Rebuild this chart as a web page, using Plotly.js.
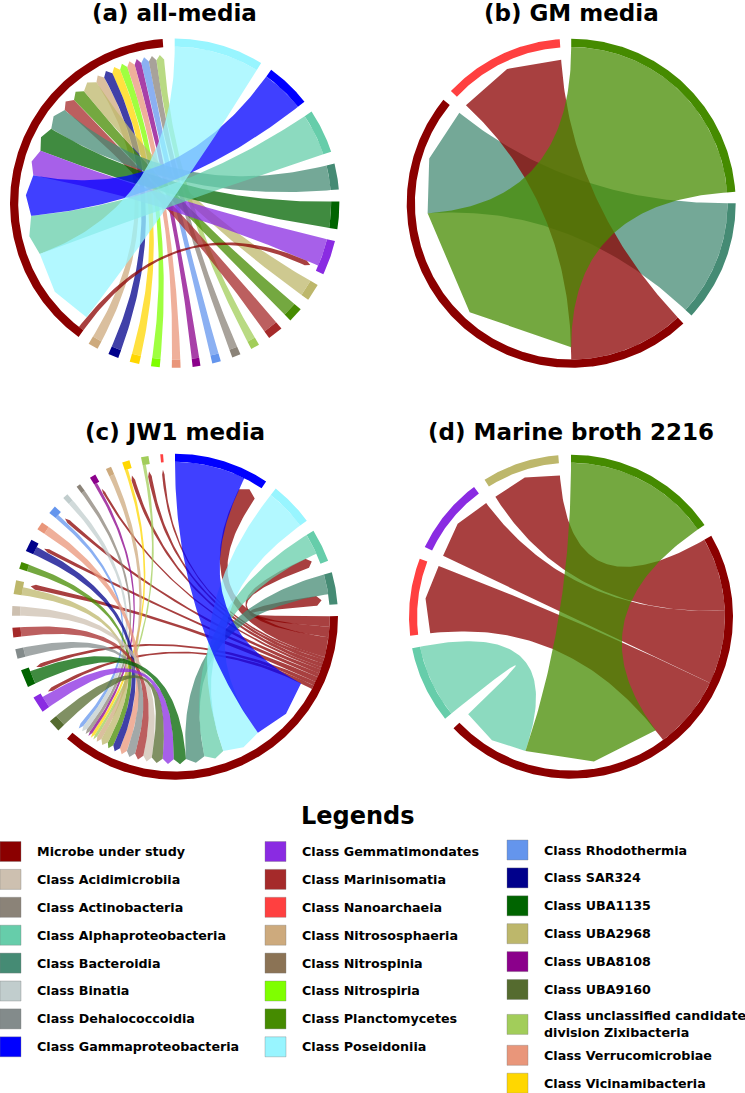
<!DOCTYPE html>
<html><head><meta charset="utf-8">
<script src="https://cdn.plot.ly/plotly-3.0.1.min.js"></script>
<style>html,body{margin:0;padding:0;background:#fff}#chart{width:745px;height:1093px}</style>
</head><body><div id="chart"></div>
<script>
// ---------------- class keys and colours ----------------
const classKeys = ["Microbe","Acidimicrobiia","Actinobacteria","Alphaproteobacteria","Bacteroidia","Binatia","Dehalococcoidia","Gammaproteobacteria",
  "Gemmatimondates","Marinisomatia","Nanoarchaeia","Nitrososphaeria","Nitrospinia","Nitrospiria","Planctomycetes","Poseidoniia",
  "Rhodothermia","SAR324","UBA1135","UBA2968","UBA8108","UBA9160","Zixibacteria","Verrucomicrobiae","Vicinamibacteria"];
const classColors = ["#8B0000","#CDC0B0","#8B8378","#66CDAA","#458B74","#C1CDCD","#838B8B","#0000FF",
  "#8A2BE2","#A52A2A","#FF4040","#CDAA7D","#8B7355","#7FFF00","#458B00","#98F5FF",
  "#6495ED","#00008B","#006400","#BDB76B","#8B008B","#556B2F","#A2CD5A","#E9967A","#FFD700"];
const legendLabels = ["Microbe under study","Class Acidimicrobiia","Class Actinobacteria","Class Alphaproteobacteria","Class Bacteroidia","Class Binatia","Class Dehalococcoidia","Class Gammaproteobacteria",
  "Class Gemmatimondates","Class Marinisomatia","Class Nanoarchaeia","Class Nitrososphaeria","Class Nitrospinia","Class Nitrospiria","Class Planctomycetes","Class Poseidoniia",
  "Class Rhodothermia","Class SAR324","Class UBA1135","Class UBA2968","Class UBA8108","Class UBA9160","Class unclassified candidate<br>division Zixibacteria","Class Verrucomicrobiae","Class Vicinamibacteria"];
const legendColumnCounts = [8, 8, 9];

// ---------------- panel (a) all-media ----------------
const A_title = "(a) all-media";
const A_sectors = ["Poseidoniia","Gammaproteobacteria","Alphaproteobacteria","Bacteroidia","UBA1135","Gemmatimondates","UBA2968","Planctomycetes","Marinisomatia","Zixibacteria","Actinobacteria","Rhodothermia","UBA8108","Verrucomicrobiae","Nitrospiria","Vicinamibacteria","SAR324","Nitrososphaeria","Microbe"];
const A_from  = ["Microbe","Poseidoniia","Alphaproteobacteria","Gammaproteobacteria","Gemmatimondates","UBA1135","Bacteroidia","Marinisomatia","Planctomycetes","UBA2968","Nitrososphaeria","SAR324","Vicinamibacteria","Nitrospiria","Verrucomicrobiae","UBA8108","Rhodothermia","Actinobacteria","Zixibacteria"];
const A_to    = ["Gemmatimondates","Microbe","Microbe","Microbe","Microbe","Microbe","Microbe","Microbe","Microbe","Microbe","Microbe","Microbe","Microbe","Microbe","Microbe","Microbe","Microbe","Microbe","Microbe"];
const A_value = [2, 31, 15.3, 15.8, 10, 9.5, 9, 5.3, 5.2, 6, 3.5, 3.6, 3.3, 3, 3, 2.7, 3, 3, 3];
const A_z     = [100, 31, 15.3, 15.8, 10, 9.5, 9, 5.3, 5.2, 6, 3.5, 3.6, 3.3, 3, 3, 2.7, 3, 3, 3];

// ---------------- panel (b) GM media ----------------
const B_title = "(b) GM media";
const B_sectors = ["Planctomycetes","Bacteroidia","Microbe","Nanoarchaeia"];
const B_from  = ["Microbe","Planctomycetes","Bacteroidia"];
const B_to    = ["Nanoarchaeia","Microbe","Microbe"];
const B_value = [1, 2, 1];
const B_z     = [1.5, 2, 1];

// ---------------- panel (c) JW1 media ----------------
const C_title = "(c) JW1 media";
const C_sectors = ["Gammaproteobacteria","Poseidoniia","Alphaproteobacteria","Bacteroidia","Microbe","UBA9160","Gemmatimondates","UBA1135","Dehalococcoidia","Marinisomatia","Acidimicrobiia","UBA2968","Planctomycetes","SAR324","Verrucomicrobiae","Rhodothermia","Binatia","Actinobacteria","UBA8108","Nitrososphaeria","Vicinamibacteria","Zixibacteria","Nanoarchaeia"];
const C_from  = ["Microbe","Microbe","Microbe","Microbe","Microbe","Microbe","Microbe","Microbe","Microbe","Microbe","Microbe","Microbe",
  "Gammaproteobacteria","Poseidoniia","Alphaproteobacteria","Bacteroidia","UBA1135","Gemmatimondates","UBA9160","Acidimicrobiia","Marinisomatia","Dehalococcoidia","Verrucomicrobiae","SAR324","Planctomycetes","UBA2968","Nitrososphaeria","Zixibacteria","Vicinamibacteria","UBA8108","Actinobacteria","Binatia","Rhodothermia"];
const C_to    = ["Bacteroidia","Alphaproteobacteria","Gammaproteobacteria","Nanoarchaeia","Zixibacteria","Vicinamibacteria","UBA8108","Rhodothermia","SAR324","UBA2968","UBA1135","Gemmatimondates",
  "Microbe","Microbe","Microbe","Microbe","Microbe","Microbe","Microbe","Microbe","Microbe","Microbe","Microbe","Microbe","Microbe","Microbe","Microbe","Microbe","Microbe","Microbe","Microbe","Microbe","Microbe"];
const C_value = [4, 4, 7.5, 1, 1.5, 1.5, 1, 1.5, 1.5, 2, 1.5, 1.5,
  27, 16, 8, 7.6, 5, 4.5, 4.5, 3.5, 3.5, 3.5, 3, 3, 2.5, 3, 2, 1.2, 1.2, 1.2, 1.5, 2, 1.5];
const C_z     = [0,0,0,0,0,0,0,0,0,0,0,0,
  27, 16, 8, 7.6, 5, 4.5, 4.5, 3.5, 3.5, 3.5, 3, 3, 2.5, 3, 2, 1.2, 1.2, 1.2, 1.5, 2, 1.5];

// ---------------- panel (d) Marine broth 2216 ----------------
const D_title = "(d) Marine broth 2216";
const D_sectors = ["Planctomycetes","Microbe","Alphaproteobacteria","Nanoarchaeia","Gemmatimondates","UBA2968"];
const D_from  = ["Microbe","Microbe","Microbe","Planctomycetes","Alphaproteobacteria"];
const D_to    = ["UBA2968","Gemmatimondates","Nanoarchaeia","Microbe","Microbe"];
const D_value = [1, 1, 1, 2, 1];
const D_z     = [1, 1, 1, 2, 1.5];

// ---------------- layout settings ----------------
const W = 745, H = 1093;
const panels = [
  {title:A_title, sectors:A_sectors, from:A_from, to:A_to, value:A_value, z:A_z, gap:4.2, cx:174.7, cy:203.2, r:164.7, ty:12.5},
  {title:B_title, sectors:B_sectors, from:B_from, to:B_to, value:B_value, z:B_z, gap:4.0, cx:571.2, cy:203.3, r:164.5, ty:12.5},
  {title:C_title, sectors:C_sectors, from:C_from, to:C_to, value:C_value, z:C_z, gap:4.2, cx:175, cy:616.7, r:163, ty:432.5},
  {title:D_title, sectors:D_sectors, from:D_from, to:D_to, value:D_value, z:D_z, gap:4.5, cx:571, cy:616.7, r:162, ty:432.5}
];
const R_OUT = 1.0, R_IN = 0.95, R_FROM = 0.95, R_TO = 0.875, TIP = 0.03, ALPHA = 0.75, L = 1.04;

const colorOf = {};
classKeys.forEach((k, i) => colorOf[k] = classColors[i]);
function rgba(hex, a) {
  const n = parseInt(hex.slice(1), 16);
  return `rgba(${(n >> 16) & 255},${(n >> 8) & 255},${n & 255},${a})`;
}
function P(a, r) { const t = a * Math.PI / 180; return [r * Math.cos(t), r * Math.sin(t)]; }
function arc(a0, a1, r) {
  const n = Math.max(2, Math.ceil(Math.abs(a0 - a1) / 0.5)); const out = [];
  for (let i = 0; i <= n; i++) out.push(P(a0 + (a1 - a0) * i / n, r));
  return out;
}
function bez(p0, p2) {
  const out = []; const n = 80;
  for (let i = 0; i <= n; i++) { const t = i / n, a = (1 - t) * (1 - t), b = t * t; out.push([a * p0[0] + b * p2[0], a * p0[1] + b * p2[1]]); }
  return out;
}
function poly(pts, color, k) {
  return {type:'scatter', mode:'lines', x:pts.map(p => p[0]), y:pts.map(p => p[1]), fill:'toself', fillcolor:color,
    line:{width:0, color:'rgba(0,0,0,0)'}, hoverinfo:'skip', showlegend:false,
    xaxis: k === 0 ? 'x' : 'x' + (k + 1), yaxis: k === 0 ? 'y' : 'y' + (k + 1)};
}

const traces = [];
const layout = {width:W, height:H, margin:{l:0, r:0, t:0, b:0}, paper_bgcolor:'#fff', plot_bgcolor:'rgba(0,0,0,0)',
  showlegend:false, hovermode:false, annotations:[], shapes:[]};

panels.forEach((pn, k) => {
  const total = {};
  pn.sectors.forEach(s => total[s] = 0);
  pn.value.forEach((v, i) => { total[pn.from[i]] += v; total[pn.to[i]] += v; });
  const sum = pn.sectors.reduce((a, s) => a + total[s], 0);
  const unit = (360 - pn.sectors.length * pn.gap) / sum;
  const start = {}, end = {};
  let th = 90;
  pn.sectors.forEach(s => { start[s] = th; th -= total[s] * unit; end[s] = th; th -= pn.gap; });
  // place link ends inside sectors
  const fromEnd = [], toEnd = [];
  pn.sectors.forEach(s => {
    const ends = [];
    pn.value.forEach((v, i) => {
      if (pn.from[i] === s) ends.push({i, role:'from'});
      if (pn.to[i] === s) ends.push({i, role:'to'});
    });
    if (s !== 'Microbe') ends.sort((a, b) => (a.role === 'from' ? 0 : 1) - (b.role === 'from' ? 0 : 1) || a.i - b.i);
    else ends.sort((a, b) => a.i - b.i);
    let c = start[s];
    ends.forEach(e => {
      const a0 = c, a1 = c - pn.value[e.i] * unit; c = a1;
      if (e.role === 'from') fromEnd[e.i] = [a0, a1]; else toEnd[e.i] = [a0, a1];
    });
  });
  // ribbons in z order
  const idx = pn.value.map((v, i) => i).sort((a, b) => pn.z[a] - pn.z[b] || a - b);
  idx.forEach(i => {
    const [s0, s1] = fromEnd[i], [t0, t1] = toEnd[i];
    const pts = [].concat(
      arc(s0, s1, R_FROM),
      bez(P(s1, R_FROM), P(t0, R_TO)),
      [P((t0 + t1) / 2, R_TO + TIP)],
      bez(P(t1, R_TO), P(s0, R_FROM))
    );
    traces.push(poly(pts, rgba(colorOf[pn.from[i]], ALPHA), k));
  });
  // outer tracks
  pn.sectors.forEach(s => {
    const pts = arc(start[s], end[s], R_OUT).concat(arc(end[s], start[s], R_IN));
    traces.push(poly(pts, colorOf[s], k));
  });
  // axes
  const half = pn.r * L;
  const ax = {visible:false, range:[-L, L], fixedrange:true, showgrid:false, zeroline:false};
  layout[k === 0 ? 'xaxis' : 'xaxis' + (k + 1)] = Object.assign({}, ax, {domain:[(pn.cx - half) / W, (pn.cx + half) / W], anchor: k === 0 ? 'y' : 'y' + (k + 1)});
  layout[k === 0 ? 'yaxis' : 'yaxis' + (k + 1)] = Object.assign({}, ax, {domain:[1 - (pn.cy + half) / H, 1 - (pn.cy - half) / H], anchor: k === 0 ? 'x' : 'x' + (k + 1)});
  layout.annotations.push({text:'<b>' + pn.title + '</b>', xref:'paper', yref:'paper', x:pn.cx / W, y:1 - pn.ty / H,
    xanchor:'center', yanchor:'middle', showarrow:false, font:{family:'DejaVu Sans', size:23, color:'#000'}});
});

// ---------------- legend ----------------
layout.annotations.push({text:'<b>Legends</b>', xref:'paper', yref:'paper', x:358 / W, y:1 - 815.5 / H,
  xanchor:'center', yanchor:'middle', showarrow:false, font:{family:'DejaVu Sans', size:24, color:'#000'}});
const colX = [0, 265, 507], textDX = 35, rowY0 = 851.5, rowStep = 27.9, swW = 21, swH = 20;
let item = 0;
legendColumnCounts.forEach((cnt, col) => {
  let y = rowY0 - (col === 2 ? 1.5 : 0);
  for (let r = 0; r < cnt; r++, item++) {
    const two = legendLabels[item].includes('<br>');
    if (two) y += 7;
    layout.shapes.push({type:'rect', xref:'paper', yref:'paper', x0:colX[col] / W, x1:(colX[col] + swW) / W,
      y0:1 - (y + swH / 2) / H, y1:1 - (y - swH / 2) / H, fillcolor:classColors[item], line:{color:'rgba(120,120,120,0.35)', width:1}});
    layout.annotations.push({text:'<b>' + legendLabels[item] + '</b>', xref:'paper', yref:'paper', x:(colX[col] + textDX) / W, y:1 - y / H,
      xanchor:'left', yanchor:'middle', align:'left', showarrow:false, font:{family:'DejaVu Sans', size:12.7, color:'#000'}});
    y += rowStep + (two ? 3 : 0);
  }
});

Plotly.newPlot('chart', traces, layout, {displayModeBar:false, staticPlot:true});
</script>
</body></html>
